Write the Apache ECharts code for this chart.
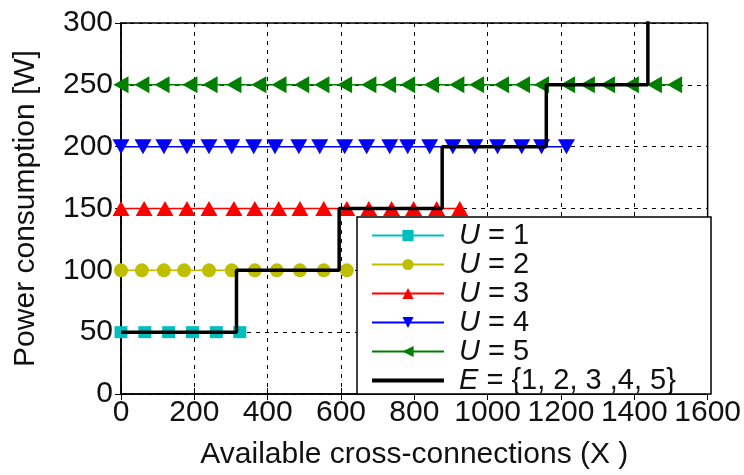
<!DOCTYPE html>
<html>
<head>
<meta charset="utf-8">
<script src="https://cdn.jsdelivr.net/npm/echarts@6/dist/echarts.min.js"></script>
<style>
html,body{margin:0;padding:0;background:#fff;}
#chart{width:744px;height:475px;}
</style>
</head>
<body>
<div id="chart"></div>
<script>
// ---- data ----
const xTicks = [0, 200, 400, 600, 800, 1000, 1200, 1400, 1600];
const yTicks = [0, 50, 100, 150, 200, 250, 300];

const seriesNames = ['U = 1', 'U = 2', 'U = 3', 'U = 4', 'U = 5', 'E = {1, 2, 3 ,4, 5}'];

const xU1 = [0, 65, 130, 195, 260, 324];
const yU1 = 50;
const xU2 = [0, 57, 117, 172, 240, 302, 365, 425, 488, 553, 616];
const yU2 = 100;
const xU3 = [0, 63, 120, 180, 240, 308, 365, 430, 488, 553, 616, 676, 738, 798, 861, 924];
const yU3 = 150;
const xU4 = [0, 60, 117, 180, 240, 302, 362, 420, 485, 542, 610, 670, 733, 782, 842, 905, 965, 1027, 1093, 1147, 1215];
const yU4 = 200;
const xU5 = [0, 57, 112, 188, 243, 308, 376, 431, 493, 548, 610, 676, 730, 782, 847, 916, 970, 1038, 1095, 1147, 1218, 1272, 1327, 1392, 1455, 1510];
const yU5 = 250;

const xE = [0, 315, 315, 595, 595, 876, 876, 1160, 1160, 1437, 1437];
const yE = [50, 50, 100, 100, 150, 150, 200, 200, 250, 250, 320];

// ---- chart ----
const FONT = '"Liberation Sans", Arial, sans-serif';
const TXT = '#111';

function pairs(xs, y) { return xs.map(x => [x, y]); }

const chart = echarts.init(document.getElementById('chart'), null, {renderer: 'canvas'});

const uStyles = [
  {color: '#00BFBF', symbol: 'rect', symbolSize: [13, 12], rot: 0},
  {color: '#BFBF00', symbol: 'circle', symbolSize: 14, rot: 0},
  {color: '#FF0000', symbol: 'triangle', symbolSize: [17, 15], rot: 0},
  {color: '#0000FF', symbol: 'triangle', symbolSize: [17, 15], rot: 180},
  {color: '#007F00', symbol: 'triangle', symbolSize: [17, 15], rot: 90}
];
const uData = [pairs(xU1, yU1), pairs(xU2, yU2), pairs(xU3, yU3), pairs(xU4, yU4), pairs(xU5, yU5)];

const series = uData.map((d, i) => ({
  name: seriesNames[i],
  type: 'line',
  data: d,
  symbol: uStyles[i].symbol,
  symbolSize: uStyles[i].symbolSize,
  symbolRotate: uStyles[i].rot,
  showAllSymbol: true,
  animation: false,
  lineStyle: {color: uStyles[i].color, width: 1.5},
  itemStyle: {color: uStyles[i].color, borderWidth: 0},
  z: 2
}));

series.push({
  name: seriesNames[5],
  type: 'line',
  data: xE.map((x, i) => [x, yE[i]]),
  symbol: 'none',
  animation: false,
  clip: true,
  lineStyle: {color: '#000', width: 3.5},
  itemStyle: {color: '#000'},
  z: 3
});

const splitLine = {show: true, lineStyle: {color: '#000', width: 1, type: [4, 5]}};

const legendData = seriesNames.map((n, i) => i === 5
  ? {name: n, itemStyle: {opacity: 0}, lineStyle: {color: '#000', width: 4}}
  : {name: n});

chart.setOption({
  backgroundColor: '#fff',
  animation: false,
  grid: {left: 121, right: 36, top: 23, bottom: 81, show: true, borderColor: '#000', borderWidth: 1.5, backgroundColor: 'transparent'},
  xAxis: [{
    type: 'value', min: xTicks[0], max: xTicks[xTicks.length - 1], interval: 200,
    name: 'Available cross-connections (X )', nameLocation: 'middle', nameGap: 46,
    nameTextStyle: {fontFamily: FONT, fontSize: 30, color: TXT},
    axisLine: {show: true, lineStyle: {color: '#000', width: 1.5}},
    axisTick: {show: true, inside: true, length: 6, lineStyle: {color: '#000'}},
    axisLabel: {fontFamily: FONT, fontSize: 30, color: TXT, margin: 4, showMaxLabel: true, showMinLabel: true, hideOverlap: false,
      formatter: function (v) { return String(v); }},
    splitLine: splitLine
  }, {
    type: 'value', position: 'top', min: 0, max: 1600, interval: 200,
    axisLine: {show: false}, axisLabel: {show: false},
    axisTick: {show: true, inside: true, length: 6, lineStyle: {color: '#000'}},
    splitLine: {show: false}
  }],
  yAxis: [{
    type: 'value', min: yTicks[0], max: yTicks[yTicks.length - 1], interval: 50,
    name: 'Power consumption [W]', nameLocation: 'middle', nameGap: 80,
    nameTextStyle: {fontFamily: FONT, fontSize: 30, color: TXT},
    axisLine: {show: true, lineStyle: {color: '#000', width: 1.5}},
    axisTick: {show: true, inside: true, length: 6, lineStyle: {color: '#000'}},
    axisLabel: {fontFamily: FONT, fontSize: 30, color: TXT, margin: 8, formatter: function (v) { return String(v); }},
    splitLine: splitLine
  }, {
    type: 'value', position: 'right', min: 0, max: 300, interval: 50,
    axisLine: {show: false}, axisLabel: {show: false},
    axisTick: {show: true, inside: true, length: 6, lineStyle: {color: '#000'}},
    splitLine: {show: false}
  }],
  graphic: [{
    type: 'rect', z: 3,
    shape: {x: 357, y: 217, width: 354, height: 177},
    style: {fill: '#fff', stroke: '#000', lineWidth: 1.5}
  }],
  legend: {
    show: true, orient: 'vertical', left: 370, top: 221, padding: 0, itemGap: 0,
    itemWidth: 72, itemHeight: 14, z: 5,
    data: legendData,
    textStyle: {fontFamily: FONT, fontSize: 29, color: TXT, lineHeight: 28, padding: [0, 0, 0, 10],
      rich: {i: {fontFamily: FONT, fontSize: 29, fontStyle: 'italic', color: TXT, lineHeight: 28}}},
    formatter: function (name) { return name.replace(/^([UE])/, '{i|$1}'); }
  },
  series: series
});
</script>
</body>
</html>
